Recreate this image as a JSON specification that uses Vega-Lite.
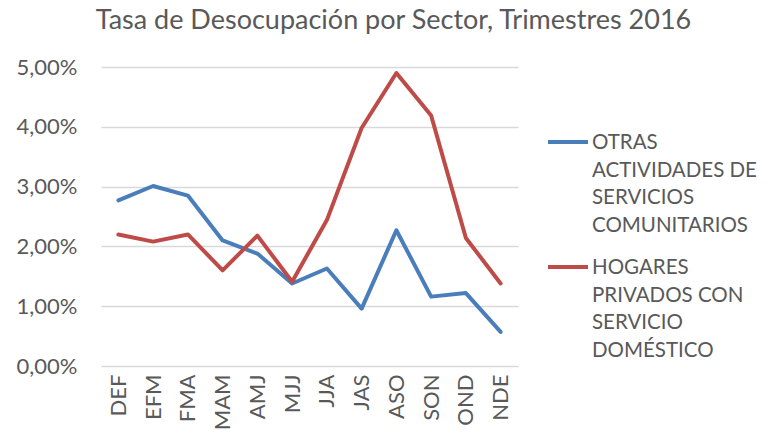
{
  "$schema": "https://vega.github.io/schema/vega-lite/v6.json",
  "autosize": "none",
  "width": 417,
  "height": 299,
  "padding": {"left": 101, "top": 67, "right": 263, "bottom": 70},
  "background": "white",
  "config": {
    "locale": {"number": {"decimal": ",", "thousands": ".", "grouping": [3], "currency": ["$", ""]}},
    "font": "Lato",
    "view": {"stroke": null},
    "style": {"guide-label": {"lineHeight": 27.5}}
  },
  "title": {
    "text": "Tasa de Desocupación por Sector, Trimestres 2016",
    "font": "Lato",
    "fontSize": 27,
    "fontWeight": "normal",
    "color": "#595959",
    "frame": "group",
    "anchor": "middle",
    "baseline": "alphabetic",
    "offset": 0,
    "dx": 84
  },
  "data": {
    "values": [
      {"t": "DEF", "serie": "OTRAS ACTIVIDADES DE SERVICIOS COMUNITARIOS", "v": 0.0277},
      {"t": "EFM", "serie": "OTRAS ACTIVIDADES DE SERVICIOS COMUNITARIOS", "v": 0.0301},
      {"t": "FMA", "serie": "OTRAS ACTIVIDADES DE SERVICIOS COMUNITARIOS", "v": 0.0285},
      {"t": "MAM", "serie": "OTRAS ACTIVIDADES DE SERVICIOS COMUNITARIOS", "v": 0.0210},
      {"t": "AMJ", "serie": "OTRAS ACTIVIDADES DE SERVICIOS COMUNITARIOS", "v": 0.0188},
      {"t": "MJJ", "serie": "OTRAS ACTIVIDADES DE SERVICIOS COMUNITARIOS", "v": 0.0138},
      {"t": "JJA", "serie": "OTRAS ACTIVIDADES DE SERVICIOS COMUNITARIOS", "v": 0.0163},
      {"t": "JAS", "serie": "OTRAS ACTIVIDADES DE SERVICIOS COMUNITARIOS", "v": 0.0096},
      {"t": "ASO", "serie": "OTRAS ACTIVIDADES DE SERVICIOS COMUNITARIOS", "v": 0.0227},
      {"t": "SON", "serie": "OTRAS ACTIVIDADES DE SERVICIOS COMUNITARIOS", "v": 0.0116},
      {"t": "OND", "serie": "OTRAS ACTIVIDADES DE SERVICIOS COMUNITARIOS", "v": 0.0122},
      {"t": "NDE", "serie": "OTRAS ACTIVIDADES DE SERVICIOS COMUNITARIOS", "v": 0.0057},
      {"t": "DEF", "serie": "HOGARES PRIVADOS CON SERVICIO DOMÉSTICO", "v": 0.0220},
      {"t": "EFM", "serie": "HOGARES PRIVADOS CON SERVICIO DOMÉSTICO", "v": 0.0208},
      {"t": "FMA", "serie": "HOGARES PRIVADOS CON SERVICIO DOMÉSTICO", "v": 0.0220},
      {"t": "MAM", "serie": "HOGARES PRIVADOS CON SERVICIO DOMÉSTICO", "v": 0.0160},
      {"t": "AMJ", "serie": "HOGARES PRIVADOS CON SERVICIO DOMÉSTICO", "v": 0.0218},
      {"t": "MJJ", "serie": "HOGARES PRIVADOS CON SERVICIO DOMÉSTICO", "v": 0.0141},
      {"t": "JJA", "serie": "HOGARES PRIVADOS CON SERVICIO DOMÉSTICO", "v": 0.0244},
      {"t": "JAS", "serie": "HOGARES PRIVADOS CON SERVICIO DOMÉSTICO", "v": 0.0398},
      {"t": "ASO", "serie": "HOGARES PRIVADOS CON SERVICIO DOMÉSTICO", "v": 0.0490},
      {"t": "SON", "serie": "HOGARES PRIVADOS CON SERVICIO DOMÉSTICO", "v": 0.0419},
      {"t": "OND", "serie": "HOGARES PRIVADOS CON SERVICIO DOMÉSTICO", "v": 0.0214},
      {"t": "NDE", "serie": "HOGARES PRIVADOS CON SERVICIO DOMÉSTICO", "v": 0.0138}
    ]
  },
  "mark": {"type": "line", "strokeWidth": 4, "strokeCap": "round", "strokeJoin": "round"},
  "encoding": {
    "x": {
      "field": "t",
      "type": "nominal",
      "sort": ["DEF", "EFM", "FMA", "MAM", "AMJ", "MJJ", "JJA", "JAS", "ASO", "SON", "OND", "NDE"],
      "scale": {"paddingInner": 0, "paddingOuter": 0.5},
      "axis": {
        "title": null,
        "labelAngle": -90,
        "labelAlign": "right",
        "labelBaseline": "middle",
        "labelFontSize": 22,
        "labelColor": "#595959",
        "labelPadding": 8,
        "ticks": false,
        "domain": false,
        "grid": false
      }
    },
    "y": {
      "field": "v",
      "type": "quantitative",
      "scale": {"domain": [0, 0.05], "nice": false},
      "axis": {
        "title": null,
        "format": ".2%",
        "values": [0, 0.01, 0.02, 0.03, 0.04, 0.05],
        "labelFontSize": 22,
        "labelColor": "#595959",
        "labelPadding": 24,
        "ticks": false,
        "domain": false,
        "gridColor": "#d9d9d9",
        "gridWidth": 1.3
      }
    },
    "color": {
      "field": "serie",
      "type": "nominal",
      "sort": ["OTRAS ACTIVIDADES DE SERVICIOS COMUNITARIOS", "HOGARES PRIVADOS CON SERVICIO DOMÉSTICO"],
      "scale": {"range": ["#4a7ebb", "#be4b48"]},
      "legend": {
        "title": null,
        "orient": "none",
        "legendX": 445,
        "legendY": 53,
        "symbolType": "stroke",
        "symbolSize": 1600,
        "symbolStrokeWidth": 4,
        "labelFontSize": 20.5,
        "labelColor": "#595959",
        "labelBaseline": "alphabetic",
        "labelOffset": 2,
        "labelLimit": 300,
        "rowPadding": 9,
        "labelExpr": "datum.label == 'OTRAS ACTIVIDADES DE SERVICIOS COMUNITARIOS' ? ['OTRAS', 'ACTIVIDADES DE', 'SERVICIOS', 'COMUNITARIOS'] : ['HOGARES', 'PRIVADOS CON', 'SERVICIO', 'DOMÉSTICO']",
        "encode": {"labels": {"update": {"dy": {"value": 7}}}}
      }
    }
  }
}
